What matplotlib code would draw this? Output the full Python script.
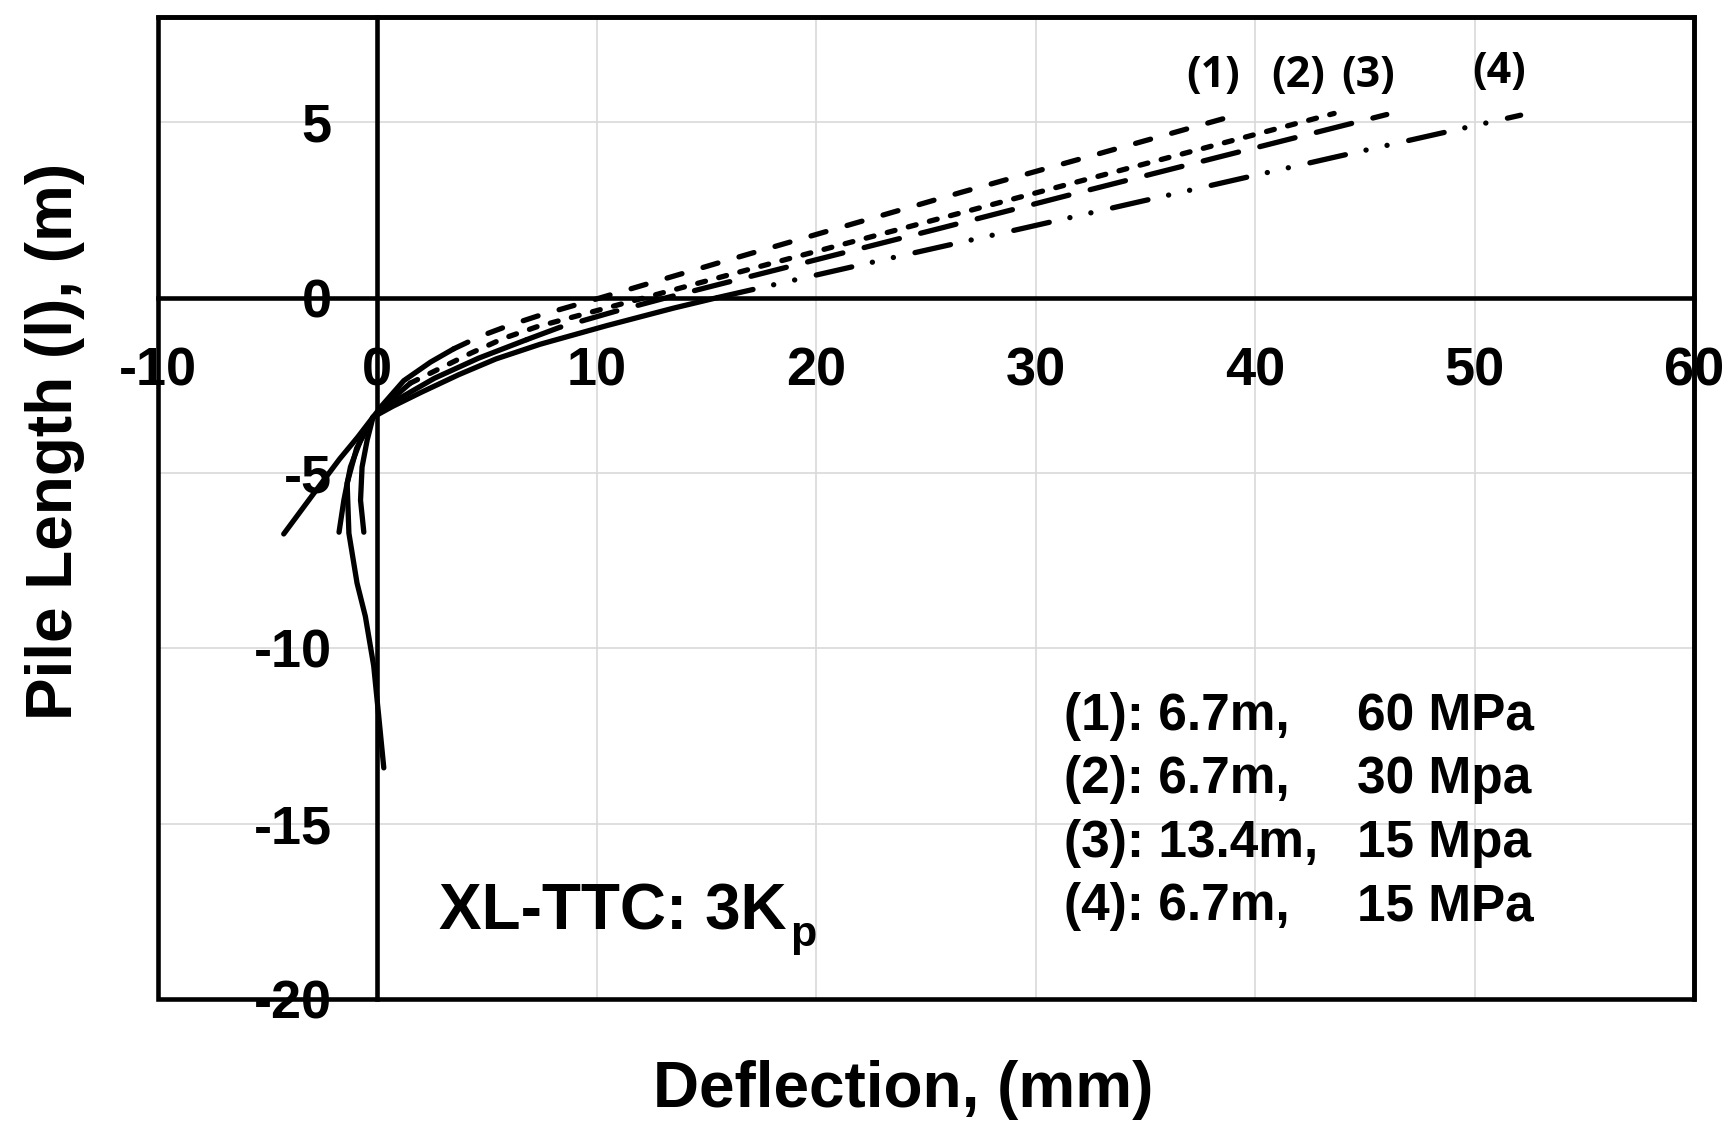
import matplotlib
matplotlib.use("Agg")
import matplotlib.pyplot as plt
from matplotlib.patches import Rectangle

# ---------------- data ----------------
# series (1): 6.7 m, 60 MPa
y1 = [-6.74, -5.60, -4.60, -3.98, -3.41, -3.07, -2.37, -1.84, -1.46, -1.10, -0.78, -0.50, 0.0, 1.0, 2.0, 3.0, 4.0, 5.25]
x1 = [-4.27, -2.92, -1.72, -0.90, -0.20, 0.22, 1.20, 2.42, 3.48, 4.70, 6.06, 7.43, 10.2, 15.6, 21.1, 26.6, 32.3, 39.4]
# series (2): 6.7 m, 30 MPa
y2 = [-6.69, -5.78, -4.83, -4.07, -3.41, -2.95, -2.44, -2.06, -1.59, -1.16, -0.83, 0.0, 1.0, 2.0, 3.0, 4.0, 5.25]
x2 = [-1.75, -1.53, -1.23, -0.77, -0.20, 0.55, 1.50, 2.72, 4.24, 5.76, 7.28, 12.2, 18.1, 24.1, 30.1, 36.1, 43.6]
# series (3): 13.4 m, 15 MPa
y3 = [-13.41, -11.94, -10.50, -9.09, -8.14, -6.72, -5.29, -4.30, -3.41, -3.02, -2.30, -1.73, -1.20, -0.85, -0.40, 0.0, 1.0, 2.0, 3.0, 4.0, 5.22]
x3 = [0.29, 0.06, -0.17, -0.55, -0.93, -1.30, -1.38, -0.95, -0.20, 0.60, 2.60, 4.60, 6.80, 8.30, 10.8, 13.2, 19.5, 25.8, 32.0, 38.3, 46.0]
# series (4): 6.7 m, 15 MPa
y4 = [-6.69, -5.78, -4.83, -4.07, -3.41, -3.10, -2.70, -2.20, -1.75, -1.33, -0.80, -0.30, 0.0, 1.0, 2.0, 3.0, 4.0, 5.2]
x4 = [-0.62, -0.77, -0.70, -0.47, -0.20, 0.70, 2.00, 3.70, 5.40, 7.42, 10.45, 13.5, 15.5, 22.5, 29.6, 36.6, 43.6, 52.1]

series_x = [x1, x2, x3, x4]
series_y = [y1, y2, y3, y4]
curve_tags = ["(1)", "(2)", "(3)", "(4)"]
tag_x = [38.07, 41.97, 45.14, 51.14]
tag_y = [6.32, 6.32, 6.32, 6.45]

legend_left = ["(1): 6.7m,", "(2): 6.7m,", "(3): 13.4m,", "(4): 6.7m,"]
legend_right = ["60 MPa", "30 Mpa", "15 Mpa", "15 MPa"]

x_ticks = [-10, 0, 10, 20, 30, 40, 50, 60]
x_tick_labels = ["-10", "0", "10", "20", "30", "40", "50", "60"]
y_ticks = [-20, -15, -10, -5, 0, 5]
y_tick_labels = ["-20", "-15", "-10", "-5", "0", "5"]

x_label = "Deflection, (mm)"
y_label = "Pile Length (l), (m)"
note_main = "XL-TTC: 3K"
note_sub = "p"

# ---------------- styling ----------------
plt.rcParams['font.family'] = ['Liberation Sans', 'DejaVu Sans']
plt.rcParams['axes.unicode_minus'] = False
plt.rcParams['lines.scale_dashes'] = False

fig = plt.figure(figsize=(17.3, 11.28), dpi=100)
ax = fig.add_axes([158 / 1730, 1 - 999 / 1128, 1536 / 1730, 982 / 1128])
ax.set_xlim(-10, 60)
ax.set_ylim(-20, 8)

ax.grid(True, color='#d9d9d9', linewidth=1.2)
ax.set_axisbelow(True)

spine_lw = 3.3
for s in ['bottom', 'left']:
    ax.spines[s].set_position(('data', 0))
for s in ax.spines.values():
    s.set_linewidth(spine_lw)
    s.set_color('black')
ax.add_patch(Rectangle((0, 0), 1, 1, transform=ax.transAxes, fill=False,
                       lw=spine_lw, ec='black', clip_on=False, zorder=5))

ax.set_xticks(x_ticks, labels=x_tick_labels)
ax.set_yticks(y_ticks, labels=y_tick_labels)
ax.tick_params(axis='both', length=0, labelsize=39)
ax.tick_params(axis='x', pad=35)
ax.tick_params(axis='y', pad=33)
for lbl in ax.get_xticklabels() + ax.get_yticklabels():
    lbl.set_fontweight('bold')

# curves: solid in the lower part, dashed above
split_idx = [8, 6, 12, 12]
dash_styles = [(11.2, 15.8), (5.8, 9.9), (26.2, 15.8),
               (26.2, 15.2, 0.1, 15.4, 0.1, 15.9)]
lw = 3.8
for xs, ys, k, d in zip(series_x, series_y, split_idx, dash_styles):
    ax.plot(xs[:k + 1], ys[:k + 1], color='black', lw=lw,
            solid_capstyle='round', solid_joinstyle='round', zorder=4)
    ax.plot(xs[k:], ys[k:], color='black', lw=lw, dashes=d,
            dash_capstyle='round', dash_joinstyle='round', zorder=4)

for t, tx, ty in zip(curve_tags, tag_x, tag_y):
    ax.text(tx, ty, t, ha='center', va='center', fontsize=31,
            fontweight='bold', family=['Open Sans', 'DejaVu Sans'])

# legend-like text block
leg_y = [-12.34, -14.13, -15.96, -17.75]
for yy, lt, rt in zip(leg_y, legend_left, legend_right):
    ax.text(31.28, yy, lt, ha='left', va='baseline', fontsize=37, fontweight='bold')
    ax.text(44.65, yy, rt, ha='left', va='baseline', fontsize=37, fontweight='bold')

t_main = ax.text(2.82, -18.02, note_main, ha='left', va='baseline',
                 fontsize=46, fontweight='bold')
ax.annotate(note_sub, xy=(1, 0), xycoords=t_main, xytext=(2.5, -2.5),
            textcoords='offset points', ha='left', va='baseline',
            fontsize=31, fontweight='bold')

ax.set_xlabel(x_label, fontsize=46, fontweight='bold')
ax.set_ylabel(y_label, fontsize=46, fontweight='bold')
ax.xaxis.set_label_coords((903 - 158) / 1536, (999 - 1090) / 982)
ax.xaxis.label.set_va('center')
ax.yaxis.set_label_coords((55 - 158) / 1536, (999 - 441) / 982)
ax.yaxis.label.set_va('center')

fig.savefig("out.png", dpi=100)
